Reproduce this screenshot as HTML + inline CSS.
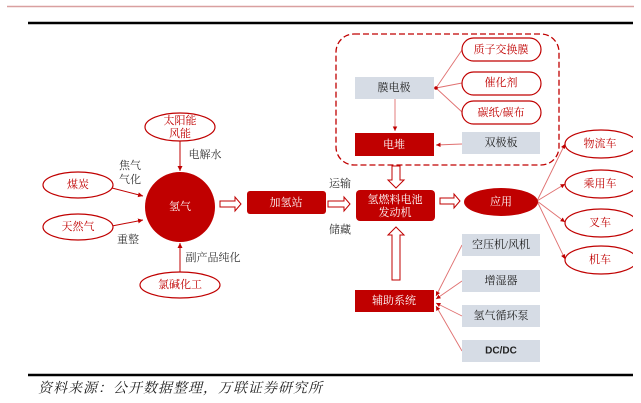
<!DOCTYPE html>
<html><head><meta charset="utf-8"><style>
html,body{margin:0;padding:0;background:#fff;width:641px;height:403px;overflow:hidden}
svg{display:block}
text{font-family:"Liberation Serif","Noto Serif CJK SC",serif;font-size:11px;text-anchor:middle;dominant-baseline:central}
</style></head><body>
<svg width="641" height="403" viewBox="0 0 641 403">
<defs>
<marker id="a" markerWidth="6" markerHeight="6" refX="5" refY="3" orient="auto"><path d="M0,0.5 L5,3 L0,5.5z" fill="#c00000"/></marker>
<clipPath id="c"><rect x="0" y="0" width="633" height="403"/></clipPath>
</defs>
<line x1="7" y1="6.5" x2="634" y2="6.5" stroke="#d9a0a0" stroke-width="1.5"/>
<line x1="28" y1="23" x2="633" y2="23" stroke="#000" stroke-width="2.5"/>
<line x1="28" y1="375" x2="633" y2="375" stroke="#000" stroke-width="2.5"/>
<text x="38" y="389" style="font-size:14px;font-style:italic;text-anchor:start;letter-spacing:1px" fill="#222">资料来源：公开数据整理，万联证券研究所</text>

<g stroke="#c00000" stroke-width="1" fill="none">
<line x1="180" y1="141" x2="180" y2="171" marker-end="url(#a)"/>
<line x1="180" y1="272" x2="180" y2="243" marker-end="url(#a)"/>
<line x1="112" y1="188" x2="143" y2="196" marker-end="url(#a)"/>
<line x1="112" y1="226" x2="143" y2="220" marker-end="url(#a)"/>
</g>
<g fill="#fff" stroke="#c00000" stroke-width="1.2">
<ellipse cx="180" cy="127" rx="35" ry="14"/>
<ellipse cx="78" cy="185" rx="35" ry="13"/>
<ellipse cx="78" cy="227" rx="35" ry="13"/>
<ellipse cx="180" cy="285" rx="40" ry="13"/>
</g>
<text x="180" y="121" fill="#c00000">太阳能</text><text x="180" y="134" fill="#c00000">风能</text>
<text x="78" y="185" fill="#c00000">煤炭</text>
<text x="78" y="227" fill="#c00000">天然气</text>
<text x="180" y="285" fill="#c00000">氯碱化工</text>
<text x="205" y="155" fill="#333">电解水</text>
<text x="130" y="166" fill="#333">焦气</text><text x="130" y="180" fill="#333">气化</text>
<text x="128" y="240" fill="#333">重整</text>
<text x="213" y="258" fill="#333">副产品纯化</text>
<circle cx="180" cy="207" r="35" fill="#c00000"/>
<text x="180" y="207" fill="#fff">氢气</text>

<g fill="#fff" stroke="#c00000" stroke-width="1">
<path d="M220,201 h15 v-4 l6,7 l-6,7 v-4 h-15z"/>
<path d="M328,201 h16 v-4 l6,7 l-6,7 v-4 h-16z"/>
<path d="M440,198 h14 v-4 l6,7 l-6,7 v-4 h-14z"/>
<path d="M392,166 h8 v14 h4 l-8,8 l-8,-8 h4z"/>
<path d="M392,280 h8 v-45 h4 l-8,-8 l-8,8 h4z"/>
</g>
<rect x="247" y="191" width="79" height="23" rx="3" fill="#c00000"/>
<text x="286" y="203" fill="#fff">加氢站</text>
<text x="340" y="184" fill="#333">运输</text>
<text x="340" y="230" fill="#333">储藏</text>
<rect x="356" y="190" width="79" height="31" rx="4" fill="#c00000"/>
<text x="395" y="200" fill="#fff">氢燃料电池</text>
<text x="395" y="213" fill="#fff">发动机</text>

<rect x="336" y="34" width="223" height="131" rx="18" fill="none" stroke="#c00000" stroke-width="1.3" stroke-dasharray="6,3"/>
<g stroke="#e07070" stroke-width="0.9" fill="none">
<line x1="436" y1="88" x2="462" y2="50"/>
<line x1="436" y1="88" x2="462" y2="83"/>
<line x1="436" y1="88" x2="462" y2="112"/>
<line x1="395" y1="99" x2="395" y2="131" marker-end="url(#a)"/>
<line x1="462" y1="144" x2="436" y2="145" marker-end="url(#a)"/>
<line x1="537" y1="201" x2="565" y2="144" marker-end="url(#a)"/>
<line x1="537" y1="201" x2="565" y2="184" marker-end="url(#a)"/>
<line x1="537" y1="201" x2="565" y2="222" marker-end="url(#a)"/>
<line x1="537" y1="201" x2="565" y2="259" marker-end="url(#a)"/>
<line x1="462" y1="245" x2="436" y2="296" marker-end="url(#a)"/>
<line x1="462" y1="281" x2="436" y2="299" marker-end="url(#a)"/>
<line x1="462" y1="316" x2="436" y2="303" marker-end="url(#a)"/>
<line x1="462" y1="351" x2="436" y2="306" marker-end="url(#a)"/>
</g>
<circle cx="436" cy="88" r="1.8" fill="#c00000"/>
<rect x="355" y="77" width="79" height="22" fill="#d6dce5"/>
<text x="394" y="88" fill="#222">膜电极</text>
<rect x="355" y="133" width="79" height="23" fill="#c00000"/>
<text x="394" y="145" fill="#fff">电堆</text>
<rect x="462" y="132" width="78" height="22" fill="#d6dce5"/>
<text x="501" y="143" fill="#222">双极板</text>
<g fill="#fff" stroke="#c00000" stroke-width="1.2">
<rect x="462" y="38" width="79" height="23" rx="11.5"/>
<rect x="462" y="72" width="79" height="23" rx="11.5"/>
<rect x="462" y="101" width="79" height="23" rx="11.5"/>
</g>
<text x="501" y="50" fill="#c00000">质子交换膜</text>
<text x="501" y="83" fill="#c00000">催化剂</text>
<text x="501" y="113" fill="#c00000">碳纸/碳布</text>

<ellipse cx="501" cy="202" rx="37" ry="14" fill="#c00000"/>
<text x="501" y="202" fill="#fff">应用</text>
<g clip-path="url(#c)">
<g fill="#fff" stroke="#c00000" stroke-width="1.2">
<ellipse cx="601" cy="144" rx="36" ry="14"/>
<ellipse cx="601" cy="184" rx="36" ry="14"/>
<ellipse cx="601" cy="223" rx="36" ry="14"/>
<ellipse cx="601" cy="260" rx="36" ry="14"/>
</g>
</g>
<text x="600" y="144" fill="#c00000">物流车</text>
<text x="600" y="184" fill="#c00000">乘用车</text>
<text x="600" y="223" fill="#c00000">叉车</text>
<text x="600" y="260" fill="#c00000">机车</text>

<rect x="355" y="290" width="79" height="22" fill="#c00000"/>
<text x="394" y="301" fill="#fff">辅助系统</text>
<g fill="#d6dce5">
<rect x="462" y="234" width="78" height="22"/>
<rect x="462" y="270" width="78" height="22"/>
<rect x="462" y="305" width="78" height="22"/>
<rect x="462" y="340" width="78" height="22"/>
</g>
<text x="501" y="245" fill="#222">空压机/风机</text>
<text x="501" y="281" fill="#222">增湿器</text>
<text x="501" y="316" fill="#222">氢气循环泵</text>
<text x="501" y="351" fill="#222" style="font-family:'Liberation Sans',sans-serif;font-weight:bold;font-size:10px">DC/DC</text>
</svg>
</body></html>
